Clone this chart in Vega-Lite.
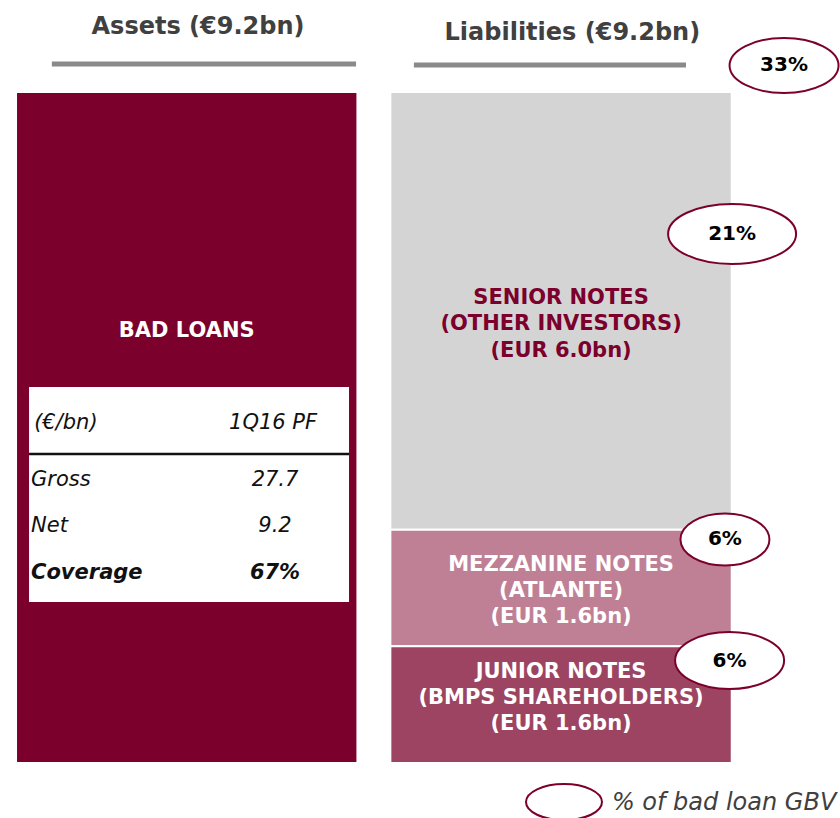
{
  "$schema": "https://vega.github.io/schema/vega-lite/v6.json",
  "width": 840,
  "height": 818,
  "autosize": "none",
  "padding": 0,
  "background": "white",
  "config": {"view": {"stroke": null}, "axis": {"disable": true}, "text": {"font": "DejaVu Sans"}},
  "datasets": {
    "segments": [
      {"side": "Assets", "segment": "Bad loans", "start": 0, "end": 9.2, "label": "BAD LOANS"},
      {"side": "Liabilities", "segment": "Senior notes", "start": 3.2, "end": 9.2, "label": "SENIOR NOTES\n(OTHER INVESTORS)\n(EUR 6.0bn)", "share": 0.21},
      {"side": "Liabilities", "segment": "Mezzanine notes", "start": 1.6, "end": 3.2, "label": "MEZZANINE NOTES\n(ATLANTE)\n(EUR 1.6bn)", "share": 0.06},
      {"side": "Liabilities", "segment": "Junior notes", "start": 0, "end": 1.6, "label": "JUNIOR NOTES\n(BMPS SHAREHOLDERS)\n(EUR 1.6bn)", "share": 0.06}
    ],
    "sides": [
      {"side": "Assets", "title": "Assets (€9.2bn)", "total": 9.2},
      {"side": "Liabilities", "title": "Liabilities (€9.2bn)", "total": 9.2, "share": 0.33}
    ],
    "table": [
      {"side": "Assets", "row": "header", "label": "(€/bn)", "value": "1Q16 PF"},
      {"side": "Assets", "row": "Gross", "label": "Gross", "value": "27.7"},
      {"side": "Assets", "row": "Net", "label": "Net", "value": "9.2"},
      {"side": "Assets", "row": "Coverage", "label": "Coverage", "value": "67%"}
    ],
    "legend": [{"side": "Liabilities", "item": "% of bad loan GBV"}]
  },
  "layer": [
    {
      "data": {"name": "segments"},
      "mark": {"type": "bar", "stroke": "white", "strokeWidth": 2},
      "encoding": {
        "x": {"field": "side", "type": "nominal", "scale": {"type": "band", "domain": ["Assets", "Liabilities"], "paddingInner": 0.088, "paddingOuter": 0.166, "align": 0.129}, "axis": null},
        "y": {"field": "start", "type": "quantitative", "scale": {"domain": [-0.754, 10.462], "nice": false, "zero": false}, "axis": null},
        "y2": {"field": "end"},
        "fill": {"field": "segment", "type": "nominal", "scale": {"domain": ["Bad loans", "Senior notes", "Mezzanine notes", "Junior notes"], "range": ["#7b002c", "#d4d4d4", "#bf8096", "#9c4462"]}, "legend": null}
      }
    },
    {
      "data": {"name": "sides"},
      "transform": [{"filter": "datum.side === 'Assets'"}],
      "mark": {"type": "rect", "fill": "white"},
      "encoding": {
        "x": {"field": "side", "type": "nominal", "bandPosition": 0.0381},
        "x2": {"field": "side", "bandPosition": 0.9754},
        "y": {"datum": 5.156, "type": "quantitative"},
        "y2": {"datum": 2.208}
      }
    },
    {
      "data": {"name": "sides"},
      "transform": [{"filter": "datum.side === 'Assets'"}],
      "mark": {"type": "rule", "color": "#111111", "strokeWidth": 2.5},
      "encoding": {
        "x": {"field": "side", "type": "nominal", "bandPosition": 0.0381},
        "x2": {"field": "side", "bandPosition": 0.9754},
        "y": {"datum": 4.237, "type": "quantitative"}
      }
    },
    {
      "data": {"name": "table"},
      "transform": [{"filter": "datum.row === 'header'"}],
      "encoding": {"y": {"datum": 4.662, "type": "quantitative"}},
      "layer": [
        {"mark": {"type": "text", "fontSize": 21, "fontStyle": "italic", "color": "#111111", "align": "left", "baseline": "middle"},
         "encoding": {"x": {"field": "side", "type": "nominal", "bandPosition": 0.053}, "text": {"field": "label"}}},
        {"mark": {"type": "text", "fontSize": 21, "fontStyle": "italic", "color": "#111111", "align": "center", "baseline": "middle"},
         "encoding": {"x": {"field": "side", "type": "nominal", "bandPosition": 0.7528}, "text": {"field": "value"}}}
      ]
    },
    {
      "data": {"name": "table"},
      "transform": [{"filter": "datum.row === 'Gross'"}],
      "encoding": {"y": {"datum": 3.88, "type": "quantitative"}},
      "layer": [
        {"mark": {"type": "text", "fontSize": 21, "fontStyle": "italic", "color": "#111111", "align": "left", "baseline": "middle"},
         "encoding": {"x": {"field": "side", "type": "nominal", "bandPosition": 0.0439}, "text": {"field": "label"}}},
        {"mark": {"type": "text", "fontSize": 21, "fontStyle": "italic", "color": "#111111", "align": "center", "baseline": "middle"},
         "encoding": {"x": {"field": "side", "type": "nominal", "bandPosition": 0.7586}, "text": {"field": "value"}}}
      ]
    },
    {
      "data": {"name": "table"},
      "transform": [{"filter": "datum.row === 'Net'"}],
      "encoding": {"y": {"datum": 3.25, "type": "quantitative"}},
      "layer": [
        {"mark": {"type": "text", "fontSize": 21, "fontStyle": "italic", "color": "#111111", "align": "left", "baseline": "middle"},
         "encoding": {"x": {"field": "side", "type": "nominal", "bandPosition": 0.0439}, "text": {"field": "label"}}},
        {"mark": {"type": "text", "fontSize": 21, "fontStyle": "italic", "color": "#111111", "align": "center", "baseline": "middle"},
         "encoding": {"x": {"field": "side", "type": "nominal", "bandPosition": 0.7586}, "text": {"field": "value"}}}
      ]
    },
    {
      "data": {"name": "table"},
      "transform": [{"filter": "datum.row === 'Coverage'"}],
      "encoding": {"y": {"datum": 2.605, "type": "quantitative"}},
      "layer": [
        {"mark": {"type": "text", "fontSize": 21, "fontStyle": "italic", "fontWeight": "bold", "color": "#111111", "align": "left", "baseline": "middle"},
         "encoding": {"x": {"field": "side", "type": "nominal", "bandPosition": 0.0439}, "text": {"field": "label"}}},
        {"mark": {"type": "text", "fontSize": 21, "fontStyle": "italic", "fontWeight": "bold", "color": "#111111", "align": "center", "baseline": "middle"},
         "encoding": {"x": {"field": "side", "type": "nominal", "bandPosition": 0.7586}, "text": {"field": "value"}}}
      ]
    },
    {
      "data": {"name": "segments"},
      "transform": [{"filter": "datum.segment === 'Bad loans'"}],
      "mark": {"type": "text", "fontSize": 21, "fontWeight": "bold", "color": "white", "align": "center", "baseline": "middle"},
      "encoding": {"x": {"field": "side", "type": "nominal", "bandPosition": 0.5}, "y": {"datum": 5.923, "type": "quantitative"}, "text": {"field": "label"}}
    },
    {
      "data": {"name": "segments"},
      "transform": [{"filter": "datum.segment === 'Senior notes'"}],
      "mark": {"type": "text", "fontSize": 21, "fontWeight": "bold", "color": "#7b002c", "align": "center", "baseline": "middle", "lineBreak": "\n", "lineHeight": 26.5},
      "encoding": {"x": {"field": "side", "type": "nominal", "bandPosition": 0.5}, "y": {"datum": 6.376, "type": "quantitative"}, "text": {"field": "label"}}
    },
    {
      "data": {"name": "segments"},
      "transform": [{"filter": "datum.segment === 'Mezzanine notes'"}],
      "mark": {"type": "text", "fontSize": 21, "fontWeight": "bold", "color": "white", "align": "center", "baseline": "middle", "lineBreak": "\n", "lineHeight": 26},
      "encoding": {"x": {"field": "side", "type": "nominal", "bandPosition": 0.5}, "y": {"datum": 2.715, "type": "quantitative"}, "text": {"field": "label"}}
    },
    {
      "data": {"name": "segments"},
      "transform": [{"filter": "datum.segment === 'Junior notes'"}],
      "mark": {"type": "text", "fontSize": 21, "fontWeight": "bold", "color": "white", "align": "center", "baseline": "middle", "lineBreak": "\n", "lineHeight": 26},
      "encoding": {"x": {"field": "side", "type": "nominal", "bandPosition": 0.5}, "y": {"datum": 1.248, "type": "quantitative"}, "text": {"field": "label"}}
    },
    {
      "data": {"name": "sides"},
      "transform": [{"filter": "datum.side === 'Assets'"}],
      "mark": {"type": "text", "fontSize": 24, "fontWeight": "bold", "color": "#404040", "align": "center", "baseline": "alphabetic"},
      "encoding": {"x": {"field": "side", "type": "nominal", "bandPosition": 0.533}, "y": {"datum": 9.989, "type": "quantitative"}, "text": {"field": "title"}}
    },
    {
      "data": {"name": "sides"},
      "transform": [{"filter": "datum.side === 'Liabilities'"}],
      "mark": {"type": "text", "fontSize": 24, "fontWeight": "bold", "color": "#404040", "align": "center", "baseline": "alphabetic"},
      "encoding": {"x": {"field": "side", "type": "nominal", "bandPosition": 0.533}, "y": {"datum": 9.92, "type": "quantitative"}, "text": {"field": "title"}}
    },
    {
      "data": {"name": "sides"},
      "transform": [{"filter": "datum.side === 'Assets'"}],
      "mark": {"type": "rule", "color": "#8a8a8a", "strokeWidth": 5},
      "encoding": {"x": {"field": "side", "type": "nominal", "bandPosition": 0.105}, "x2": {"field": "side", "bandPosition": 0.996}, "y": {"datum": 9.585, "type": "quantitative"}}
    },
    {
      "data": {"name": "sides"},
      "transform": [{"filter": "datum.side === 'Liabilities'"}],
      "mark": {"type": "rule", "color": "#8a8a8a", "strokeWidth": 5},
      "encoding": {"x": {"field": "side", "type": "nominal", "bandPosition": 0.069}, "x2": {"field": "side", "bandPosition": 0.866}, "y": {"datum": 9.571, "type": "quantitative"}}
    },
    {
      "data": {"name": "segments"},
      "transform": [{"filter": "datum.segment === 'Senior notes'"}],
      "encoding": {"x": {"field": "side", "type": "nominal", "bandPosition": 1.001}, "y": {"datum": 7.254, "type": "quantitative"}},
      "layer": [
        {"mark": {"type": "point", "shape": "M-1,0A1,0.469,0,1,0,1,0A1,0.469,0,1,0,-1,0Z", "size": 16384, "filled": true, "fill": "white", "stroke": "#7b002c", "strokeWidth": 2, "opacity": 1}},
        {"mark": {"type": "text", "fontSize": 20, "fontWeight": "bold", "color": "#000000", "align": "center", "baseline": "middle"}, "encoding": {"text": {"field": "share", "format": ".0%"}}}
      ]
    },
    {
      "data": {"name": "segments"},
      "transform": [{"filter": "datum.segment === 'Mezzanine notes'"}],
      "encoding": {"x": {"field": "side", "type": "nominal", "bandPosition": 0.98}, "y": {"datum": 3.065, "type": "quantitative"}},
      "layer": [
        {"mark": {"type": "point", "shape": "M-1,0A1,0.584,0,1,0,1,0A1,0.584,0,1,0,-1,0Z", "size": 7921, "filled": true, "fill": "white", "stroke": "#7b002c", "strokeWidth": 2, "opacity": 1}},
        {"mark": {"type": "text", "fontSize": 20, "fontWeight": "bold", "color": "#000000", "align": "center", "baseline": "middle"}, "encoding": {"text": {"field": "share", "format": ".0%"}}}
      ]
    },
    {
      "data": {"name": "segments"},
      "transform": [{"filter": "datum.segment === 'Junior notes'"}],
      "encoding": {"x": {"field": "side", "type": "nominal", "bandPosition": 0.9937}, "y": {"datum": 1.405, "type": "quantitative"}},
      "layer": [
        {"mark": {"type": "point", "shape": "M-1,0A1,0.523,0,1,0,1,0A1,0.523,0,1,0,-1,0Z", "size": 11881, "filled": true, "fill": "white", "stroke": "#7b002c", "strokeWidth": 2, "opacity": 1}},
        {"mark": {"type": "text", "fontSize": 20, "fontWeight": "bold", "color": "#000000", "align": "center", "baseline": "middle"}, "encoding": {"text": {"field": "share", "format": ".0%"}}}
      ]
    },
    {
      "data": {"name": "sides"},
      "transform": [{"filter": "datum.side === 'Liabilities'"}],
      "encoding": {"x": {"field": "side", "type": "nominal", "bandPosition": 1.1532}, "y": {"datum": 9.564, "type": "quantitative"}},
      "layer": [
        {"mark": {"type": "point", "shape": "M-1,0A1,0.505,0,1,0,1,0A1,0.505,0,1,0,-1,0Z", "size": 11881, "filled": true, "fill": "white", "stroke": "#7b002c", "strokeWidth": 2, "opacity": 1}},
        {"mark": {"type": "text", "fontSize": 20, "fontWeight": "bold", "color": "#000000", "align": "center", "baseline": "middle"}, "encoding": {"text": {"field": "share", "format": ".0%"}}}
      ]
    },
    {
      "data": {"name": "legend"},
      "mark": {"type": "point", "shape": "M-1,0A1,0.474,0,1,0,1,0A1,0.474,0,1,0,-1,0Z", "size": 5776, "filled": true, "fill": "white", "stroke": "#7b002c", "strokeWidth": 2, "opacity": 1},
      "encoding": {"x": {"field": "side", "type": "nominal", "bandPosition": 0.5086}, "y": {"datum": -0.535, "type": "quantitative"}}
    },
    {
      "data": {"name": "legend"},
      "mark": {"type": "text", "fontSize": 24, "fontStyle": "italic", "color": "#404040", "align": "left", "baseline": "middle"},
      "encoding": {"x": {"field": "side", "type": "nominal", "bandPosition": 0.649}, "y": {"datum": -0.548, "type": "quantitative"}, "text": {"field": "item"}}
    }
  ]
}
